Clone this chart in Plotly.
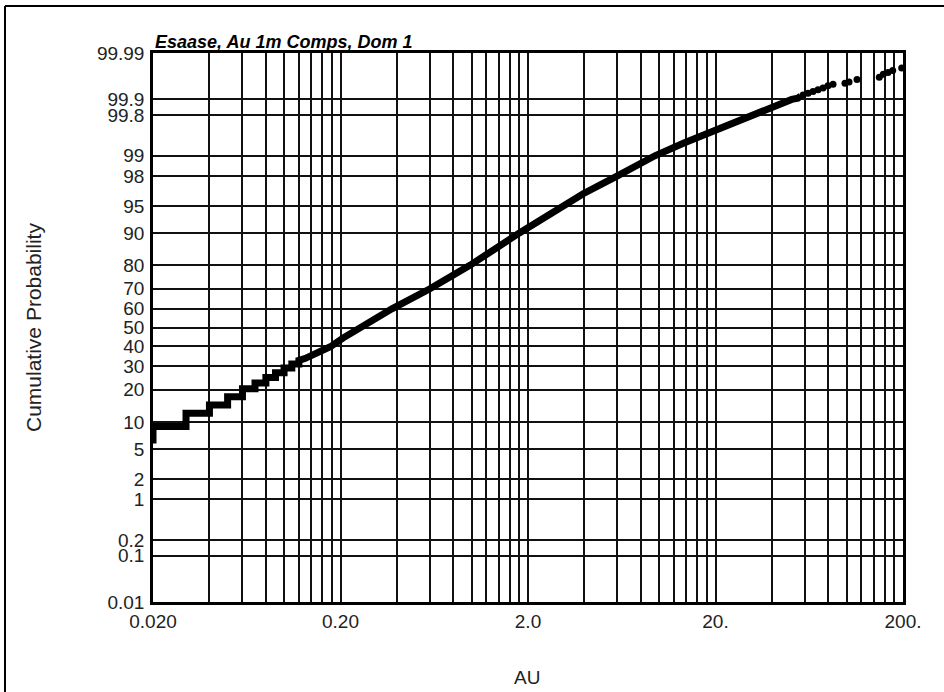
import plotly.graph_objects as go
from statistics import NormalDist
import math

# ---- data (AU grade, cumulative probability %) ----
curve_au = [0.02, 0.02, 0.03, 0.03, 0.04, 0.04, 0.05, 0.05, 0.06, 0.06, 0.07, 0.07,
            0.08, 0.08, 0.09, 0.09, 0.10, 0.10, 0.11, 0.11, 0.12, 0.12, 0.13, 0.15,
            0.1765, 0.206, 0.376, 0.60, 0.98, 1.8, 3.0, 3.94, 6.0, 9.5, 13.47,
            31.0, 51.0, 55.0, 57.0]
curve_prob = [5.8, 9.0, 9.0, 12.3, 12.3, 14.7, 14.7, 17.4, 17.4, 20.3, 20.3, 22.6,
              22.6, 24.9, 24.9, 27.0, 27.0, 29.2, 29.2, 31.0, 31.0, 32.8, 33.8, 36.5,
              39.7, 44.3, 60.0, 70.0, 80.0, 90.0, 95.0, 96.5, 98.0, 99.0, 99.37,
              99.80, 99.90, 99.905, 99.915]

tail_au = [58.6, 62.3, 66.2, 70.4, 74.9, 79.6, 84.7,
           98.1, 103.1, 113.7,
           149.5, 157.0, 166.4, 176.2, 196.8]
tail_prob = [99.918, 99.925, 99.931, 99.936, 99.941, 99.947, 99.951,
             99.953, 99.956, 99.961,
             99.965, 99.970, 99.9725, 99.975, 99.978]

prob_ticks = [0.01, 0.1, 0.2, 1, 2, 5, 10, 20, 30, 40, 50, 60, 70, 80, 90, 95, 98, 99,
              99.8, 99.9, 99.99]
prob_labels = ["0.01", "0.1", "0.2", "1", "2", "5", "10", "20", "30", "40", "50", "60",
               "70", "80", "90", "95", "98", "99", "99.8", "99.9", "99.99"]
au_ticks = [0.02, 0.2, 2, 20, 200]
au_labels = ["0.020", "0.20", "2.0", "20.", "200."]

nd = NormalDist()
def z(p):
    return nd.inv_cdf(p / 100.0)

# minor vertical grid: 2,4,...,18 x decade start
grid_au = []
for base in [0.02, 0.2, 2, 20]:
    for k in range(2, 11):
        grid_au.append(round(base * k, 6))

fig = go.Figure()
fig.add_trace(go.Scatter(
    x=curve_au, y=[z(p) for p in curve_prob], mode="lines",
    line=dict(color="black", width=7), showlegend=False, hoverinfo="skip"))
fig.add_trace(go.Scatter(
    x=tail_au, y=[z(p) for p in tail_prob], mode="markers",
    marker=dict(color="black", size=7), cliponaxis=False, showlegend=False))

FONT = "Liberation Sans, Arial, sans-serif"
tickfont = dict(family=FONT, size=19, color="#222")
fig.update_xaxes(
    type="log", range=[math.log10(0.02), math.log10(200)],
    tickmode="array", tickvals=au_ticks, ticktext=au_labels,
    showgrid=True, gridcolor="#111", gridwidth=1.5,
    minor=dict(tickmode="array", tickvals=grid_au, showgrid=True,
               gridcolor="#111", gridwidth=1.5, ticks=""),
    showline=True, linecolor="black", linewidth=2.5, mirror=True,
    ticks="", ticklabelstandoff=0, tickfont=tickfont, zeroline=False)
fig.update_yaxes(
    range=[z(0.01), z(99.99)],
    tickmode="array", tickvals=[z(p) for p in prob_ticks], ticktext=prob_labels,
    showgrid=True, gridcolor="#111", gridwidth=1.5,
    showline=True, linecolor="black", linewidth=2.5, mirror=True,
    ticks="", ticklabelstandoff=2, tickfont=tickfont, zeroline=False)

W, H = 944, 692
L, R, T, B = 153, 41, 53, 90
pw, ph = W - L - R, H - T - B
def px(xp):
    return (xp - L) / pw
def py(yp):
    return (H - B - yp) / ph

fig.update_layout(
    width=W, height=H, margin=dict(l=L, r=R, t=T, b=B),
    paper_bgcolor="white", plot_bgcolor="white",
    font=dict(family=FONT, color="#222"),
    annotations=[
        dict(text="<b><i>Esaase, Au 1m Comps, Dom 1</i></b>", xref="paper", yref="paper",
             x=0, y=1, xanchor="left", yanchor="bottom", yshift=-1, showarrow=False,
             font=dict(size=18, color="black", family=FONT)),
        dict(text="Cumulative Probability", xref="paper", yref="paper",
             x=px(33), y=py(328), textangle=-90, showarrow=False,
             xanchor="center", yanchor="middle",
             font=dict(size=21, color="#222")),
        dict(text="AU", xref="paper", yref="paper",
             x=px(527), y=py(677), showarrow=False, xanchor="center", yanchor="middle",
             font=dict(size=19, color="#222")),
    ],
    shapes=[
        dict(type="line", xref="paper", yref="paper", x0=px(5), x1=px(960),
             y0=py(6), y1=py(6), line=dict(color="black", width=2)),
        dict(type="line", xref="paper", yref="paper", x0=px(5), x1=px(5),
             y0=py(6), y1=py(700), line=dict(color="black", width=2)),
    ],
)
fig.write_html("out.html", config={"displayModeBar": False},
               post_script="document.body.style.margin='0';")
